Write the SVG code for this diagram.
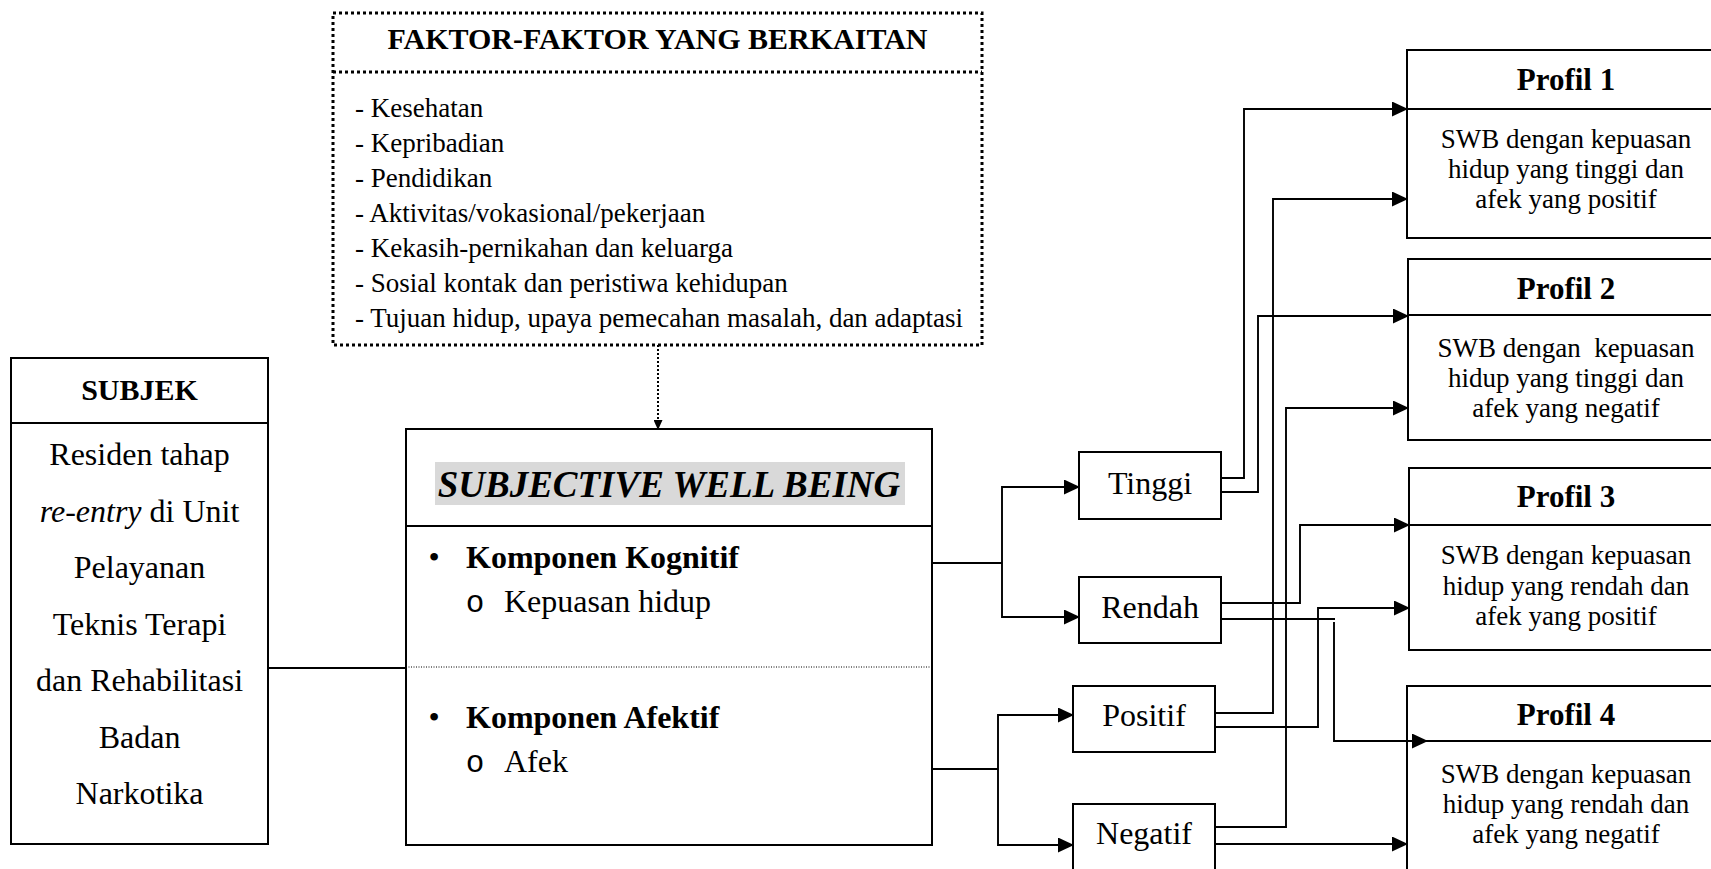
<svg xmlns="http://www.w3.org/2000/svg" width="1711" height="869" viewBox="0 0 1711 869">
<style>
text{font-family:"Liberation Serif","Times New Roman",serif;fill:#000}
.c{text-anchor:middle}
.b{font-weight:bold}
.box{fill:#fff;stroke:#000;stroke-width:2}
.div{stroke:#000;stroke-width:2}
.dotbox{fill:#fff;stroke:#000;stroke-width:3;stroke-dasharray:3 3}
.conn{fill:none;stroke:#000;stroke-width:1.9}
.arr{marker-end:url(#ah)}
.f27{font-size:27px}
.f32{font-size:32px}
.f31{font-size:31px}
.mono{font-family:"Liberation Mono","Courier New",monospace;font-size:31px}
</style>
<defs>
<marker id="ah" markerUnits="userSpaceOnUse" markerWidth="16" markerHeight="15" refX="15" refY="7.5" orient="auto">
<path d="M0,0 L16,7.5 L0,15 z" fill="#000"/>
</marker>
<marker id="ahs" markerUnits="userSpaceOnUse" markerWidth="10" markerHeight="9" refX="9" refY="4.5" orient="auto">
<path d="M0,0 L10,4.5 L0,9 z" fill="#000"/>
</marker>
</defs>
<rect width="1711" height="869" fill="#fff"/>

<g id="faktor">
<rect class="dotbox" x="333" y="13" width="649" height="332"/>
<line x1="333" y1="72" x2="982" y2="72" stroke="#000" stroke-width="3" stroke-dasharray="3 3"/>
<text class="c b" x="657.5" y="49" font-size="30">FAKTOR-FAKTOR YANG BERKAITAN</text>
<text class="f27" x="355" y="117">- Kesehatan</text>
<text class="f27" x="355" y="152">- Kepribadian</text>
<text class="f27" x="355" y="187">- Pendidikan</text>
<text class="f27" x="355" y="222">- Aktivitas/vokasional/pekerjaan</text>
<text class="f27" x="355" y="257">- Kekasih-pernikahan dan keluarga</text>
<text class="f27" x="355" y="292">- Sosial kontak dan peristiwa kehidupan</text>
<text class="f27" x="355" y="327">- Tujuan hidup, upaya pemecahan masalah, dan adaptasi</text>
</g>

<g id="subjek">
<rect class="box" x="11" y="358" width="257" height="486"/>
<line class="div" x1="11" y1="423" x2="268" y2="423"/>
<text class="c b" x="139.5" y="400" font-size="30">SUBJEK</text>
<text class="c f32" x="139.5" y="465">Residen tahap</text>
<text class="c f32" x="139.5" y="521.5"><tspan font-style="italic">re-entry</tspan> di Unit</text>
<text class="c f32" x="139.5" y="578">Pelayanan</text>
<text class="c f32" x="139.5" y="634.5">Teknis Terapi</text>
<text class="c f32" x="139.5" y="691">dan Rehabilitasi</text>
<text class="c f32" x="139.5" y="747.5">Badan</text>
<text class="c f32" x="139.5" y="804">Narkotika</text>
</g>

<g id="swb">
<rect class="box" x="406" y="429" width="526" height="416"/>
<line class="div" x1="406" y1="526" x2="932" y2="526"/>
<line x1="406" y1="667" x2="932" y2="667" stroke="#000" stroke-width="1" stroke-dasharray="1 1.5"/>
<rect x="435" y="462" width="470" height="43" fill="#d9d9d9"/>
<text class="c b" x="669" y="497" font-size="37" font-style="italic">SUBJECTIVE WELL BEING</text>
<text class="c f32" x="434" y="568">•</text>
<text class="b f32" x="466" y="568">Komponen Kognitif</text>
<text class="c mono" x="475" y="612">o</text>
<text class="f32" x="504" y="612">Kepuasan hidup</text>
<text class="c f32" x="434" y="728">•</text>
<text class="b f32" x="466" y="728">Komponen Afektif</text>
<text class="c mono" x="475" y="772">o</text>
<text class="f32" x="504" y="772">Afek</text>
</g>

<g id="tinggi">
<rect class="box" x="1079" y="452" width="142" height="67"/>
<text class="c f32" x="1150" y="494">Tinggi</text>
</g>
<g id="rendah">
<rect class="box" x="1079" y="577" width="142" height="66"/>
<text class="c f32" x="1150" y="618">Rendah</text>
</g>
<g id="positif">
<rect class="box" x="1073" y="686" width="142" height="66"/>
<text class="c f32" x="1144" y="726">Positif</text>
</g>
<g id="negatif">
<rect class="box" x="1073" y="804" width="142" height="80"/>
<text class="c f32" x="1144" y="844">Negatif</text>
</g>

<g id="profil1">
<rect class="box" x="1407" y="50" width="316" height="188"/>
<line class="div" x1="1407" y1="109" x2="1723" y2="109"/>
<text class="c b f31" x="1566" y="90">Profil 1</text>
<text class="c f27" x="1566" y="148">SWB dengan kepuasan</text>
<text class="c f27" x="1566" y="178">hidup yang tinggi dan</text>
<text class="c f27" x="1566" y="208">afek yang positif</text>
</g>
<g id="profil2">
<rect class="box" x="1408" y="259" width="315" height="181"/>
<line class="div" x1="1408" y1="315" x2="1723" y2="315"/>
<text class="c b f31" x="1566" y="299">Profil 2</text>
<text class="c f27" x="1566" y="357" xml:space="preserve">SWB dengan  kepuasan</text>
<text class="c f27" x="1566" y="387">hidup yang tinggi dan</text>
<text class="c f27" x="1566" y="417">afek yang negatif</text>
</g>
<g id="profil3">
<rect class="box" x="1409" y="468" width="314" height="182"/>
<line class="div" x1="1409" y1="525" x2="1723" y2="525"/>
<text class="c b f31" x="1566" y="507">Profil 3</text>
<text class="c f27" x="1566" y="564">SWB dengan kepuasan</text>
<text class="c f27" x="1566" y="595">hidup yang rendah dan</text>
<text class="c f27" x="1566" y="625">afek yang positif</text>
</g>
<g id="profil4">
<rect class="box" x="1407" y="686" width="316" height="200"/>
<line class="div" x1="1407" y1="741" x2="1723" y2="741"/>
<text class="c b f31" x="1566" y="725">Profil 4</text>
<text class="c f27" x="1566" y="783">SWB dengan kepuasan</text>
<text class="c f27" x="1566" y="813">hidup yang rendah dan</text>
<text class="c f27" x="1566" y="843">afek yang negatif</text>
</g>

<g id="connectors">
<path d="M658,345 V429" fill="none" stroke="#000" stroke-width="2" stroke-dasharray="2 2" marker-end="url(#ahs)"/>
<path class="conn" d="M268,668 H406"/>
<path class="conn" d="M932,563 H1002"/>
<path class="conn arr" d="M1002,563 V487 H1079"/>
<path class="conn arr" d="M1002,563 V617 H1079"/>
<path class="conn" d="M932,769 H998"/>
<path class="conn arr" d="M998,769 V715 H1073"/>
<path class="conn arr" d="M998,769 V845 H1073"/>
<path class="conn arr" d="M1221,478 H1244 V109 H1407"/>
<path class="conn arr" d="M1221,492 H1258 V316 H1408"/>
<path class="conn arr" d="M1215,713 H1273 V199 H1407"/>
<path class="conn arr" d="M1215,727 H1318 V608 H1409"/>
<path class="conn arr" d="M1215,827 H1286 V408 H1408"/>
<path class="conn arr" d="M1215,844 H1407"/>
<path class="conn arr" d="M1221,603 H1300 V525 H1409"/>
<path class="conn" d="M1221,619 H1335"/>
<path class="conn arr" d="M1334,622 V741 H1427"/>
</g>
</svg>
